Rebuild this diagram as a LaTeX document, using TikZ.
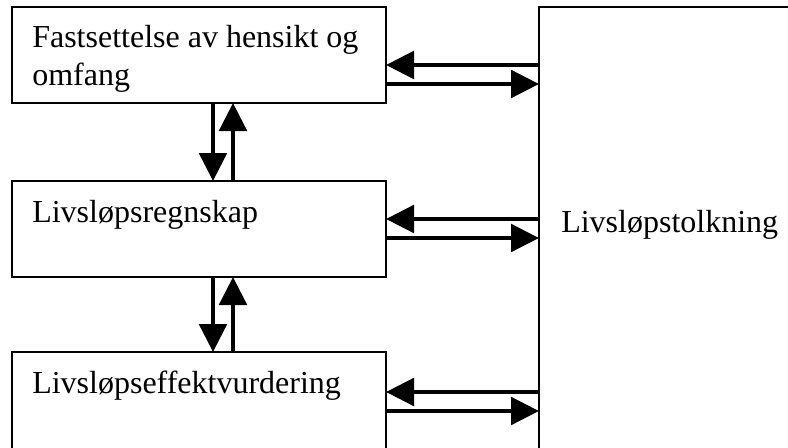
\documentclass[tikz,border=0pt]{standalone}
\usepackage{fontspec}
\setmainfont{Liberation Serif}
\usetikzlibrary{arrows.meta}
\tikzstyle{stage}=[draw, line width=1pt, rectangle, anchor=north west, inner sep=0pt, outer sep=0pt, minimum width=280.5pt, minimum height=72pt]
\tikzstyle{stagetext}=[anchor=base west, inner sep=0pt, align=left, font=\fontsize{24}{28.5}\selectfont]
\tikzstyle{flow}=[line width=3.4pt, -{Triangle[length=21pt, width=20.5pt]}]

\begin{document}
\begin{tikzpicture}[x=0.75pt, y=-0.75pt]
        \useasboundingbox (0,0) rectangle (788,447);
        \node[stage] (fast) at (12,7) {};
        \node[stage] (regn) at (12,181) {};
        \node[stage, minimum height=150pt] (effekt) at (12,352) {};
        \node[stage, minimum width=225pt, minimum height=375pt] (tolk) at (539,7) {};
        % base ligger på siste linje
        \node[stagetext] (fasttxt) at ([shift={(20,78)}]fast.north west) {Fastsettelse av hensikt og\\omfang};
        \node[stagetext] (regntxt) at ([shift={(20,41)}]regn.north west) {Livsløpsregnskap};
        \node[stagetext] (effekttxt) at ([shift={(20,41)}]effekt.north west) {Livsløpseffektvurdering};
        \node[stagetext] (tolktxt) at (561,232) {Livsløpstolkning};
        % mellom trinnene
        \draw[flow] (fast.south -| 213,0) -- (regn.north -| 213,0);
        \draw[flow] (regn.north -| 233,0) -- (fast.south -| 233,0);
        \draw[flow] (regn.south -| 213,0) -- (effekt.north -| 213,0);
        \draw[flow] (effekt.north -| 233,0) -- (regn.south -| 233,0);
        % til og fra tolkning
        \draw[flow] (tolk.west |- 0,65) -- (fast.east |- 0,65);
        \draw[flow] (fast.east |- 0,84) -- (tolk.west |- 0,84);
        \draw[flow] (tolk.west |- 0,219) -- (regn.east |- 0,219);
        \draw[flow] (regn.east |- 0,238) -- (tolk.west |- 0,238);
        \draw[flow] (tolk.west |- 0,392) -- (effekt.east |- 0,392);
        \draw[flow] (effekt.east |- 0,411) -- (tolk.west |- 0,411);
\end{tikzpicture}
\end{document}
